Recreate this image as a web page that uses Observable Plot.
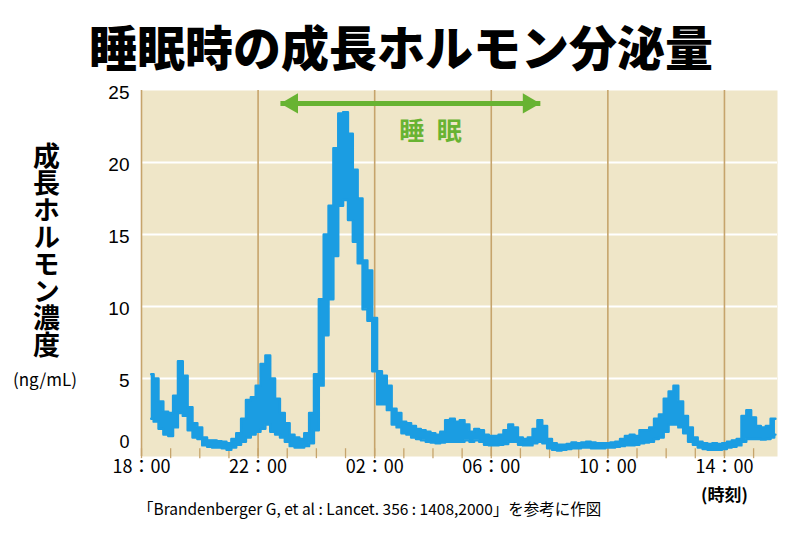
<!DOCTYPE html>
<html><head><meta charset="utf-8">
<script src="https://cdn.jsdelivr.net/npm/d3@7"></script>
<script src="https://cdn.jsdelivr.net/npm/@observablehq/plot@0.6"></script>
<style>
body{margin:0;background:#fff;}
#wrap{position:relative;width:800px;height:533px;overflow:hidden;background:#fff;}
#chart{position:absolute;left:0;top:0;}
.abs{position:absolute;font-family:"Noto Sans CJK JP",sans-serif;color:#000;white-space:nowrap;}
</style></head><body>
<div id="wrap">
<div id="chart"></div>
<div class="abs" style="left:0;width:802px;top:21px;text-align:center;font-size:48px;font-weight:900;line-height:1;">睡眠時の成長ホルモン分泌量</div>
<div class="abs" style="left:33px;top:142px;writing-mode:vertical-rl;text-orientation:upright;font-size:27px;font-weight:bold;line-height:1;">成長ホルモン濃度</div>
<div class="abs" style="left:13px;top:369px;font-size:17px;line-height:1.2;">(ng/mL)</div>
<div class="abs" style="left:701px;top:484px;font-size:17px;font-weight:bold;line-height:1.2;">(時刻)</div>
<div class="abs" style="left:138px;top:498px;font-size:15.5px;line-height:1.3;">「Brandenberger G, et al : Lancet. 356 : 1408,2000」を参考に作図</div>
</div>
<script>
// sample times (clock)
const times = [
 "18:20","18:30","18:40","18:50",
 "19:00","19:10","19:20","19:30","19:40","19:50",
 "20:00","20:10","20:20","20:30","20:40","20:50",
 "21:00","21:10","21:20","21:30","21:40","21:50",
 "22:00","22:10","22:20","22:30","22:40","22:50",
 "23:00","23:10","23:20","23:30","23:40","23:50",
 "00:00","00:10","00:20","00:30","00:40","00:50",
 "01:00","01:10","01:20","01:30","01:40","01:50",
 "02:00","02:10","02:20","02:30","02:40","02:50",
 "03:00","03:10","03:20","03:30","03:40","03:50",
 "04:00","04:10","04:20","04:30","04:40","04:50",
 "05:00","05:10","05:20","05:30","05:40","05:50",
 "06:00","06:10","06:20","06:30","06:40","06:50",
 "07:00","07:10","07:20","07:30","07:40","07:50",
 "08:00","08:10","08:20","08:30","08:40","08:50",
 "09:00","09:10","09:20","09:30","09:40","09:50",
 "10:00","10:10","10:20","10:30","10:40","10:50",
 "11:00","11:10","11:20","11:30","11:40","11:50",
 "12:00","12:10","12:20","12:30","12:40","12:50",
 "13:00","13:10","13:20","13:30","13:40","13:50",
 "14:00","14:10","14:20","14:30","14:40","14:50",
 "15:00","15:10","15:20","15:30","15:40","15:45"
];
// upper edge of the fluctuating GH concentration (ng/mL)
const upper = [
 5.3,5.0,3.4,2.7,
 2.6,3.8,6.2,5.2,3.0,1.9,
 1.6,0.9,0.7,0.7,0.65,0.6,
 0.5,0.8,1.2,2.2,3.5,3.7,
 4.5,6.0,6.6,5.0,3.6,2.6,
 1.9,1.1,0.9,0.8,1.2,2.6,
 5.3,10.5,15.0,17.0,21.0,23.4,
 23.5,22.0,19.5,17.5,13.2,12.5,
 9.2,5.5,5.2,4.5,2.9,2.6,
 2.0,1.9,1.7,1.5,1.4,1.3,
 1.2,1.1,1.3,2.1,2.2,2.0,
 2.1,1.8,1.3,1.5,1.4,1.1,
 1.0,1.0,1.1,1.4,1.8,1.6,
 0.9,0.8,0.9,1.5,2.1,1.7,
 0.8,0.5,0.4,0.4,0.45,0.55,
 0.5,0.55,0.6,0.55,0.5,0.5,
 0.5,0.55,0.6,0.8,1.0,1.1,
 1.0,1.4,1.4,1.6,2.2,2.5,
 3.6,4.1,4.5,3.4,2.4,1.6,
 0.9,0.6,0.5,0.45,0.5,0.45,
 0.5,0.6,0.7,0.8,2.4,2.8,
 2.3,1.7,1.6,1.7,2.2,2.2
];
// lower edge of the fluctuating GH concentration (ng/mL)
const lower = [
 2.2,2.0,1.5,1.1,
 1.0,1.6,2.6,2.4,1.4,0.9,
 0.8,0.35,0.25,0.2,0.2,0.15,
 0.05,0.2,0.4,0.6,0.9,1.1,
 1.3,1.5,1.8,1.3,1.1,0.9,
 0.6,0.3,0.2,0.2,0.3,0.5,
 1.4,4.5,8.0,10.5,13.5,17.0,
 17.4,16.0,14.5,13.0,9.8,9.0,
 5.5,3.2,3.2,2.8,1.8,1.6,
 1.2,1.1,0.9,0.8,0.7,0.6,
 0.55,0.5,0.55,0.6,0.6,0.6,
 0.6,0.7,0.6,0.7,0.6,0.4,
 0.35,0.35,0.4,0.45,0.6,0.6,
 0.4,0.35,0.35,0.5,0.6,0.5,
 0.15,0.05,0.0,0.05,0.1,0.15,
 0.15,0.2,0.2,0.15,0.15,0.15,
 0.2,0.2,0.25,0.3,0.35,0.35,
 0.4,0.5,0.55,0.6,0.8,0.9,
 1.3,1.8,1.8,1.6,1.2,0.6,
 0.4,0.2,0.1,0.05,0.05,0.05,
 0.1,0.2,0.25,0.35,0.6,0.8,
 0.8,0.8,0.75,0.8,0.9,1.1
];
const xTickLabels = ["18:00","22:00","02:00","06:00","10:00","14:00"];
const hourTickLabels = ["18:00","19:00","20:00","21:00","22:00","23:00","00:00","01:00","02:00","03:00","04:00","05:00","06:00","07:00","08:00","09:00","10:00","11:00","12:00","13:00","14:00","15:00"];
const yTicks = [0,5,10,15,20,25];
const sleepSpan = ["22:46","07:41"];
const sleepLabel = {time:"03:55", value:22.15, text:"睡\u2002眠"};
const sleepArrowLevel = 24.1;

const toH = s => { const [h,m] = s.split(":").map(Number); return ((h*60+m-1080+1440)%1440)/60; };
const data = times.map((t,i) => ({h: toH(t), hi: upper[i], lo: lower[i]}));

const blue = "#1b9de2", grid = "#c6a46c", green = "#68b332", bg = "#efe6c8";
const yMin = -0.42;

const chart = Plot.plot({
  width: 800, height: 533,
  marginLeft: 141, marginRight: 23, marginTop: 90, marginBottom: 77,
  x: {domain: [0, 21.82], axis: null, label: null},
  y: {domain: [yMin, 25], axis: null, label: null},
  style: {background: "transparent", overflow: "visible"},
  marks: [
    Plot.frame({fill: bg, stroke: null}),
    Plot.ruleY(yTicks.filter(v => v > 0 && v < 25), {stroke: "#fff", strokeWidth: 2}),
    Plot.ruleX(xTickLabels.map(toH), {stroke: grid, strokeWidth: 1.6}),
    Plot.ruleX(hourTickLabels.map(toH), {y1: yMin - 0.15, y2: 0.12, stroke: grid, strokeWidth: 1.3}),
    Plot.areaY(data, {x: "h", y1: "lo", y2: "hi", fill: blue, curve: "step"}),
    Plot.line(data, {x: "h", y: "hi", stroke: blue, strokeWidth: 2.4, curve: "step"}),
    Plot.line(data, {x: "h", y: "lo", stroke: blue, strokeWidth: 2.4, curve: "step"}),
    // sleep arrow
    Plot.link([sleepSpan], {x1: d => toH(d[0]), x2: d => toH(d[1]), y1: sleepArrowLevel, y2: sleepArrowLevel, stroke: green, strokeWidth: 5}),
    Plot.dot([sleepSpan[0]], {x: d => toH(d), y: sleepArrowLevel, symbol: "triangle", r: 7.5, fill: green, stroke: null, rotate: -90, dx: 11.7}),
    Plot.dot([sleepSpan[1]], {x: d => toH(d), y: sleepArrowLevel, symbol: "triangle", r: 7.5, fill: green, stroke: null, rotate: 90, dx: -11.7}),
    Plot.text([sleepLabel], {x: d => toH(d.time), y: "value", text: "text", fill: green, fontSize: 25, fontWeight: "bold", fontFamily: "Noto Sans CJK JP"}),
    // axes
    Plot.axisY(yTicks.filter(v => v > 0), {tickSize: 0, tickPadding: 12, fontSize: 19, dy: 2, fill: "#000", label: null, fontFamily: "Liberation Sans, Arial, sans-serif"}),
    Plot.axisY([0], {tickSize: 0, tickPadding: 12, fontSize: 18, dy: -8, fill: "#000", label: null, fontFamily: "Liberation Sans, Arial, sans-serif"}),
    Plot.axisX(xTickLabels.map(toH), {tickSize: 0, tickPadding: 4, fontSize: 18, fill: "#000", label: null, fontFamily: "Noto Sans CJK JP",
      tickFormat: h => xTickLabels[xTickLabels.map(toH).indexOf(h)].replace(":", "：")})
  ]
});
document.getElementById("chart").appendChild(chart);
</script>
</body></html>
